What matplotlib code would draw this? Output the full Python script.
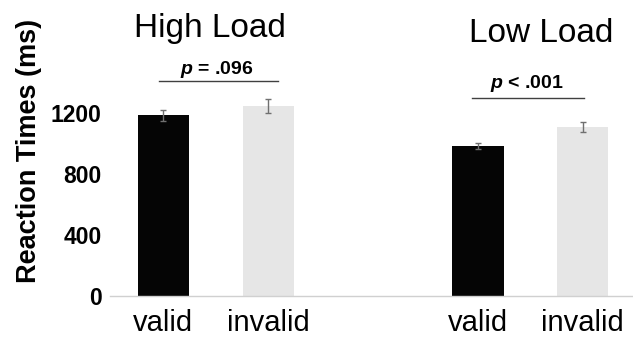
import matplotlib.pyplot as plt

plt.rcParams["font.family"] = ["Liberation Sans", "DejaVu Sans"]
plt.rcParams["mathtext.fontset"] = "custom"
plt.rcParams["mathtext.bfit"] = "Liberation Sans:italic:bold"
plt.rcParams["mathtext.bf"] = "Liberation Sans:bold"
plt.rcParams["mathtext.rm"] = "Liberation Sans"

# Data
conditions = ["valid", "invalid", "valid", "invalid"]
positions = [0, 1, 3, 4]
rt_means = [1185, 1245, 985, 1110]
rt_errors = [35, 46, 22, 33]
bar_colors = ["#050505", "#e6e6e6", "#050505", "#e6e6e6"]
load_titles = ["High Load", "Low Load"]
p_labels = [r"$\mathbfit{p}$ = .096", r"$\mathbfit{p}$ < .001"]
y_ticks = [0, 400, 800, 1200]


def main():
    fig = plt.figure(figsize=(6.33, 3.4), dpi=100)
    ax = fig.add_axes([110 / 633, 44 / 340, 523 / 633, 256 / 340])

    ax.bar(positions, rt_means, width=0.49, color=bar_colors, zorder=2)
    ax.errorbar(positions, rt_means, yerr=rt_errors, fmt="none",
                ecolor="#707070", elinewidth=1.0, capsize=2.5, capthick=1.0,
                zorder=3)

    ax.set_xlim(-0.51, 4.48)
    ax.set_ylim(0, 1680)
    ax.set_yticks(y_ticks)
    ax.set_yticklabels([str(t) for t in y_ticks], fontsize=16.5,
                       fontweight="bold")
    ax.set_xticks(positions)
    ax.set_xticklabels(conditions, fontsize=21)
    ax.tick_params(axis="both", length=0)
    ax.tick_params(axis="y", pad=6)
    ax.tick_params(axis="x", pad=9.5)

    for side in ("top", "right", "left"):
        ax.spines[side].set_visible(False)
    ax.spines["bottom"].set_color("#d0d0d0")
    ax.spines["bottom"].set_linewidth(1.0)

    ax.set_ylabel("Reaction Times (ms)", fontsize=19.5, fontweight="bold")
    ax.yaxis.set_label_coords(-68 / 523, 0.566)

    # Group titles
    fig.text(210 / 633, 1 - 28 / 340, load_titles[0], fontsize=24,
             ha="center", va="center")
    fig.text(541 / 633, 1 - 34 / 340, load_titles[1], fontsize=24,
             ha="center", va="center")

    # Significance annotations
    fig.text(217 / 633, 1 - 69 / 340, p_labels[0], fontsize=14,
             fontweight="bold", ha="center", va="center")
    fig.add_artist(plt.Line2D([159 / 633, 278 / 633],
                              [1 - 80.5 / 340, 1 - 80.5 / 340],
                              color="#404040", linewidth=1.0))
    fig.text(527 / 633, 1 - 83 / 340, p_labels[1], fontsize=14,
             fontweight="bold", ha="center", va="center")
    fig.add_artist(plt.Line2D([472 / 633, 584 / 633],
                              [1 - 97.5 / 340, 1 - 97.5 / 340],
                              color="#404040", linewidth=1.0))

    fig.savefig("out.png", dpi=100, facecolor="white")


if __name__ == "__main__":
    main()
